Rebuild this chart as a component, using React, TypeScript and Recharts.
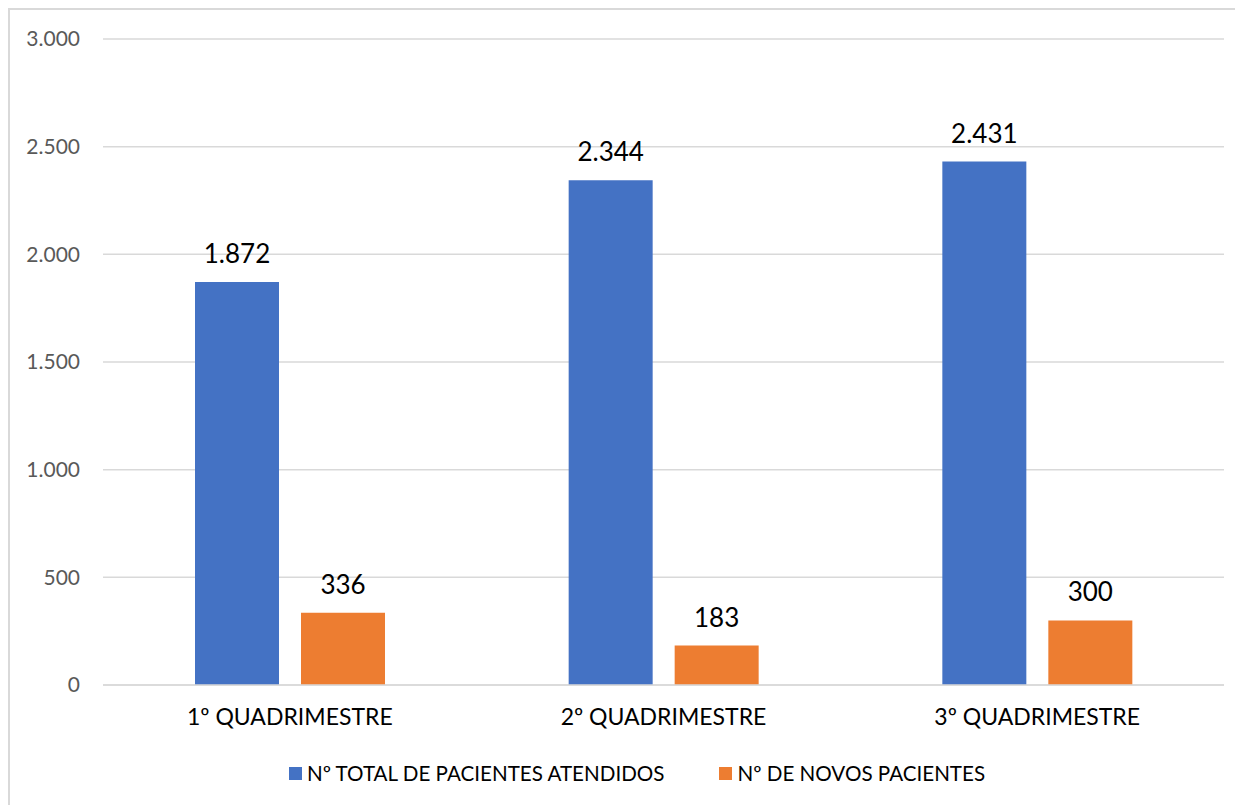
import { Bar, BarChart, CartesianGrid, LabelList, Legend, XAxis, YAxis } from "recharts"

// Dados por quadrimestre
const categories = ["1º QUADRIMESTRE", "2º QUADRIMESTRE", "3º QUADRIMESTRE"]
const totalAtendidos = [1872, 2344, 2431]
const novosPacientes = [336, 183, 300]
const yTicks = [0, 500, 1000, 1500, 2000, 2500, 3000]

const seriesNames = ["Nº TOTAL DE PACIENTES ATENDIDOS", "Nº DE NOVOS PACIENTES"]
const seriesColors = ["#4472C4", "#ED7D31"]

const data = categories.map((name, i) => ({
    name,
    total: totalAtendidos[i],
    novos: novosPacientes[i],
}))

const fmt = (v: number) => String(v).replace(/\B(?=(\d{3})+(?!\d))/g, ".")

const font = "Lato, 'Open Sans', sans-serif"

// legenda na ordem das séries
const renderLegend = () => (
    <div
        style={{
            display: "flex",
            justifyContent: "center",
            gap: 55,
            paddingLeft: 40,
            fontSize: 20.6,
            fontFamily: font,
            color: "#000",
        }}
    >
        {seriesNames.map((n, i) => (
            <div key={n} style={{ display: "flex", alignItems: "center" }}>
                <span style={{ width: 13, height: 13, background: seriesColors[i], marginRight: 5, display: "inline-block" }} />
                <span>{n}</span>
            </div>
        ))}
    </div>
)

export default function App() {
    return (
        <div
            style={{
                width: 1233,
                height: 795,
                borderTop: "2px solid #d9d9d9",
                borderLeft: "2px solid #d9d9d9",
                fontFamily: font,
            }}
        >
            <BarChart
                width={1233}
                height={795}
                data={data}
                margin={{ top: 29, right: 19, left: 0, bottom: 40 }}
                barGap={22}
                barCategoryGap="24.6%"
            >
                <CartesianGrid vertical={false} stroke="#d9d9d9" strokeWidth={1.5} />
                <XAxis
                    dataKey="name"
                    tickLine={false}
                    axisLine={{ stroke: "#d9d9d9", strokeWidth: 1.5 }}
                    tickSize={0}
                    tickMargin={24}
                    height={56}
                    tick={{ fill: "#000", fontSize: 23, fontFamily: font }}
                />
                <YAxis
                    domain={[0, 3000]}
                    ticks={yTicks}
                    width={93}
                    tickLine={false}
                    axisLine={false}
                    tickSize={0}
                    tickMargin={23}
                    tickFormatter={fmt}
                    tick={{ fill: "#595959", fontSize: 21, fontFamily: font }}
                />
                <Legend verticalAlign="bottom" content={renderLegend} wrapperStyle={{ bottom: 20 }} />
                <Bar dataKey="total" name={seriesNames[0]} fill={seriesColors[0]} barSize={84} isAnimationActive={false}>
                    <LabelList dataKey="total" position="top" offset={19} formatter={(v: any) => fmt(v)} fill="#000" fontSize={26} fontFamily={font} />
                </Bar>
                <Bar dataKey="novos" name={seriesNames[1]} fill={seriesColors[1]} barSize={84} isAnimationActive={false}>
                    <LabelList dataKey="novos" position="top" offset={19} formatter={(v: any) => fmt(v)} fill="#000" fontSize={26} fontFamily={font} />
                </Bar>
            </BarChart>
        </div>
    )
}
